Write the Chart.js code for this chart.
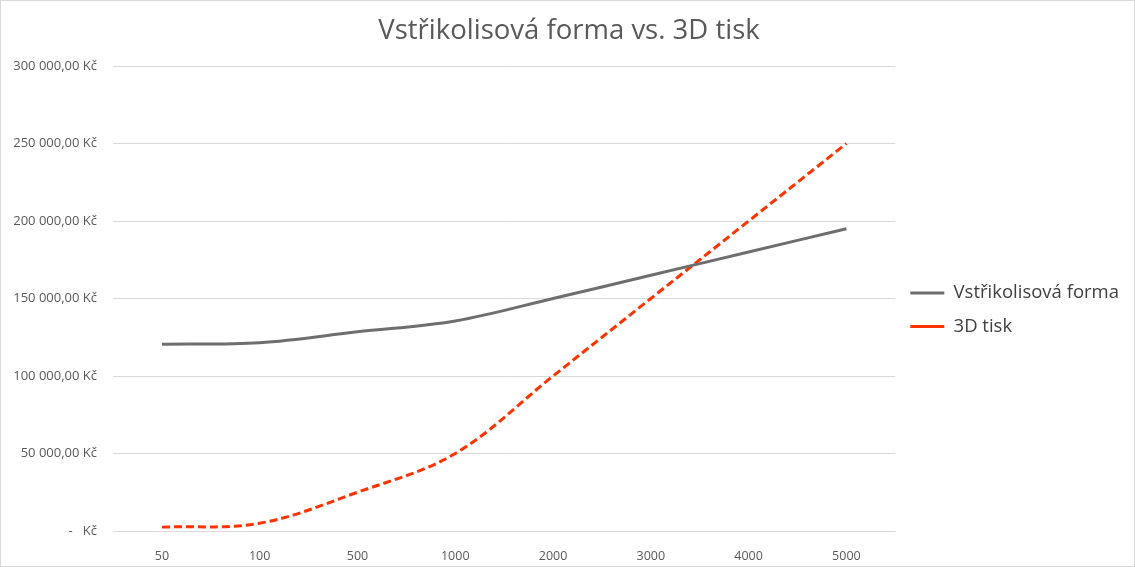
<!DOCTYPE html>
<html>
<head>
<meta charset="utf-8">
<script src="https://cdn.jsdelivr.net/npm/chart.js@4"></script>
<style>
  html,body{margin:0;padding:0;background:#fff;}
  #wrap{width:1135px;height:567px;box-sizing:border-box;border:1px solid #d9d9d9;position:relative;}
  canvas{display:block;}
</style>
</head>
<body>
<div id="wrap"><canvas id="chart" width="1133" height="565"></canvas></div>
<script>
// data
const labels = ["50","100","500","1000","2000","3000","4000","5000"];
const formaValues = [120500,121500,128500,135500,150000,165000,180000,195000];
const tiskValues = [2500,5000,25000,50000,100000,150000,200000,250000];
const seriesNames = ["Vstřikolisová forma","3D tisk"];
const chartTitle = "Vstřikolisová forma vs. 3D tisk";

const FONT = "'Open Sans', sans-serif";
const TXT = "#595959";

// format like Excel accounting: "150 000,00 Kč", zero as "-  Kč"
function kc(v){
  if(v===0) return "-   Kč";
  const s = Math.round(v).toString().replace(/\B(?=(\d{3})+(?!\d))/g," ");
  return s+",00 Kč";
}

const ctx = document.getElementById("chart").getContext("2d");
new Chart(ctx,{
  type:'line',
  data:{
    labels:labels,
    datasets:[
      {label:seriesNames[0], data:formaValues, borderColor:'#6e6e6e', backgroundColor:'#6e6e6e',
       borderWidth:3, tension:0.35, pointRadius:0, fill:false},
      {label:seriesNames[1], data:tiskValues, borderColor:'#ff3300', backgroundColor:'#ff3300',
       borderWidth:3, borderDash:[8,4], tension:0.35, pointRadius:0, fill:false}
    ]
  },
  options:{
    responsive:false, animation:false,
    layout:{padding:{left:8,right:5,top:0,bottom:0}},
    plugins:{
      title:{display:true, text:chartTitle, color:TXT, font:{family:FONT,size:27.5,weight:'normal'}, padding:{top:14,bottom:18}},
      legend:{position:'right', align:'center',
        // empty legend title just pushes the items down a bit
        title:{display:true, text:' ', font:{size:12}, padding:{top:0,bottom:38}},
        labels:{color:'#404040', font:{family:FONT,size:18.5}, usePointStyle:true, pointStyle:'line',
                pointStyleWidth:34, boxHeight:18, padding:15}},
      tooltip:{enabled:false}
    },
    scales:{
      x:{offset:true, grid:{display:false}, border:{display:false},
         ticks:{color:TXT, font:{family:FONT,size:12.5}, padding:10},
         afterFit:s=>{ s.height = 35; }},
      y:{min:0, max:300000, border:{display:false},
         grid:{color:'#d9d9d9', drawTicks:false},
         ticks:{stepSize:50000, color:TXT, font:{family:FONT,size:13}, padding:16, callback:kc},
         afterFit:s=>{ s.width = 104; }}
    }
  }
});
</script>
</body>
</html>
